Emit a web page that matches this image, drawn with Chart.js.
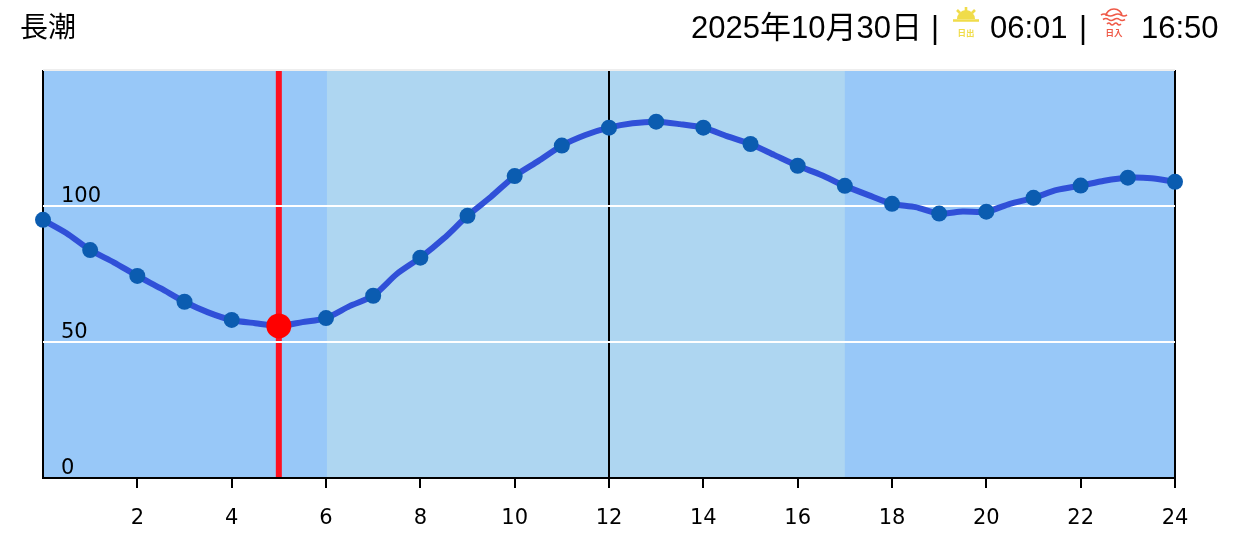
<!DOCTYPE html>
<html lang="ja">
  <head>
    <meta charset="UTF-8" />
    <script src="https://cdn.jsdelivr.net/npm/chart.js@4/dist/chart.umd.js"></script>
    <title>長潮</title>
    <style>
      body { margin: 0; background: #fff; font-family: "Liberation Sans", "Noto Sans CJK JP", sans-serif; color: #000; }
      #wrap { position: relative; width: 1241px; height: 539px; overflow: hidden; }
      #myChart { position: absolute; left: 0; top: 0; }
      .head { position: absolute; top: 10px; font-size: 31px; line-height: 36px; white-space: nowrap; }
      svg { position: absolute; }
      svg text { font-size: 8.5px; font-weight: 700; font-family: "Noto Sans CJK JP", sans-serif; text-anchor: middle; }
    </style>
  </head>
  <body>
    <div id="wrap">
      <canvas id="myChart" width="1241" height="539"></canvas>
      <div class="head" style="left:20px;font-size:28px;">長潮</div>
      <div class="head" style="left:691px;">2025年10月30日</div>
      <div class="head" style="left:931px;">|</div>
      <div class="head" style="left:990px;">06:01</div>
      <div class="head" style="left:1079px;">|</div>
      <div class="head" style="left:1141px;">16:50</div>
      <svg style="left:952px;top:6px;" width="28" height="34" viewBox="0 0 28 34">
        <path d="M5 13 A9 9 0 0 1 23 13 Z" fill="#f0dc4a" />
        <path d="M1 14.5 H27 M14 1 V5 M5 4 L8 7 M23 4 L20 7" stroke="#f0dc4a" stroke-width="2.6" fill="none" />
        <text x="14" y="30" fill="#f0dc4a">日出</text>
      </svg>
      <svg style="left:1099px;top:6px;" width="30" height="34" viewBox="0 0 30 34">
        <path d="M7 10 A8 7 0 0 1 23 10 M2 9 q3 -2 6 0 t7 0 t7 0 t6 0 M4 13.5 q3 -2 5.5 0 t5.5 0 t5.5 0 t5.5 0 M8 18 q2 -2 3.5 0 t3.5 0 t3.5 0 t3.5 0" stroke="#ef5a48" stroke-width="1.6" fill="none" />
        <text x="15" y="30" fill="#ef5a48">日入</text>
      </svg>
    </div>

    <script>
      // markers on the hour
      var hours = [0, 1, 2, 3, 4, 5, 6, 7, 8, 9, 10, 11, 12, 13, 14, 15, 16, 17, 18, 19, 20, 21, 22, 23, 24];
      var tide = [94.9, 83.8, 74.3, 64.8, 58.1, 55.9, 58.8, 67, 81, 96.4, 111, 122.2, 128.8, 131, 128.8, 122.8, 114.8, 107.4, 100.8, 97.2, 97.9, 103, 107.5, 110.4, 108.9];
      // the line itself has half hour values too
      var lineHours = [0, 0.5, 1, 1.5, 2, 2.5, 3, 3.5, 4, 4.5, 5, 5.5, 6, 6.5, 7, 7.5, 8, 8.5, 9, 9.5, 10, 10.5, 11, 11.5, 12, 12.5, 13, 13.5, 14, 14.5, 15, 15.5, 16, 16.5, 17, 17.5, 18, 18.5, 19, 19.5, 20, 20.5, 21, 21.5, 22, 22.5, 23, 23.5, 24];
      var lineTide = [94.9, 90, 83.8, 79.3, 74.3, 69.7, 64.8, 60.9, 58.1, 56.9, 55.9, 57.3, 58.8, 63.2, 67, 75, 81, 88.1, 96.4, 103.4, 111, 116.5, 122.2, 126.1, 128.8, 130.4, 131, 130.1, 128.8, 125.7, 122.8, 118.8, 114.8, 111.4, 107.4, 104, 100.8, 99.6, 97.2, 98, 97.9, 100.8, 103, 105.9, 107.5, 109.3, 110.4, 110.2, 108.9];
      var yLabels = [0, 50, 100];
      var blackHours = [0, 12, 24];
      var nowHour = [5];
      var nowTide = [55.9];
      var dayStart = 6.02;
      var dayEnd = 17;

      var backdrop = {
        id: 'backdrop',
        beforeDraw(chart) {
          var c = chart.ctx, a = chart.chartArea, x = chart.scales.x;
          c.save();
          c.fillStyle = '#98c8f8';
          c.fillRect(a.left, a.top, a.right - a.left, a.bottom - a.top);
          c.fillStyle = '#aed6f1';
          c.fillRect(x.getPixelForValue(dayStart), a.top, x.getPixelForValue(dayEnd) - x.getPixelForValue(dayStart), a.bottom - a.top);
          c.fillStyle = '#ff1020';
          c.fillRect(x.getPixelForValue(nowHour[0]) - 3, a.top, 6, a.bottom - a.top);
          c.restore();
        }
      };

      var myChart = new Chart(document.getElementById('myChart').getContext('2d'), {
        type: 'line',
        data: {
          datasets: [
            {
              data: nowHour.map((h, i) => ({ x: h, y: nowTide[i] })),
              showLine: false,
              pointRadius: 12.5,
              pointBackgroundColor: '#ff0000',
              pointBorderWidth: 0,
              clip: false
            },
            {
              data: hours.map((h, i) => ({ x: h, y: tide[i] })),
              showLine: false,
              pointRadius: 8,
              pointBackgroundColor: '#0b5cb0',
              pointBorderWidth: 0,
              clip: false
            },
            {
              data: lineHours.map((h, i) => ({ x: h, y: lineTide[i] })),
              borderColor: '#3050d8',
              borderWidth: 6,
              tension: 0.25,
              pointRadius: 0,
              clip: false
            }
          ]
        },
        plugins: [backdrop],
        options: {
          responsive: false,
          animation: false,
          layout: { padding: { left: 43, right: 66, top: 70, bottom: 0 } },
          plugins: { legend: { display: false }, tooltip: { enabled: false } },
          scales: {
            x: {
              type: 'linear',
              min: 0,
              max: 24,
              afterFit(s) { s.height = 61; },
              border: { color: '#000', width: 2 },
              grid: {
                color: ctx => blackHours.includes(ctx.tick.value) ? '#000' : 'rgba(0,0,0,0)',
                tickColor: ctx => ctx.tick.value === 0 ? 'rgba(0,0,0,0)' : '#000',
                lineWidth: 2,
                tickLength: 10
              },
              ticks: {
                stepSize: 2,
                maxRotation: 0,
                autoSkip: false,
                padding: 18,
                color: '#000',
                font: { family: '"DejaVu Sans"', size: 21 },
                callback: v => v === 0 ? '' : v
              }
            },
            y: {
              min: 0,
              max: 150,
              afterFit(s) { s.width = 0; },
              border: { display: false },
              grid: {
                color: ctx => ctx.tick.value === 150 ? '#eeeeee' : ctx.tick.value === 0 ? 'rgba(0,0,0,0)' : '#ffffff',
                lineWidth: 2,
                drawTicks: false
              },
              ticks: {
                stepSize: 50,
                mirror: true,
                padding: 18,
                labelOffset: -9,
                color: '#000',
                font: { family: '"DejaVu Sans"', size: 21 },
                callback: v => yLabels.includes(v) ? v : ''
              }
            }
          }
        }
      });
    </script>
  </body>
</html>
